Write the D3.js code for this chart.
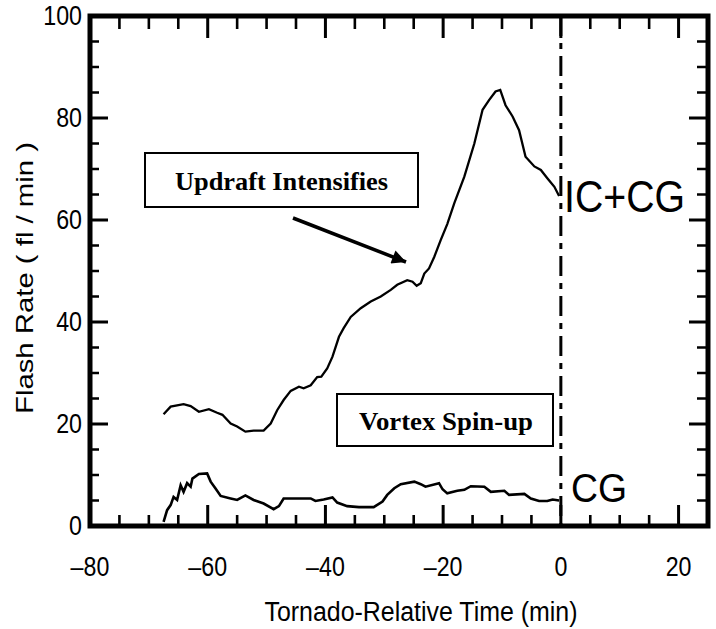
<!DOCTYPE html>
<html>
<head>
<meta charset="utf-8">
<script src="https://cdn.jsdelivr.net/npm/d3@7"></script>
<style>
  body { margin: 0; background: #fff; }
  svg { display: block; }
</style>
</head>
<body>
<svg id="chart" width="716" height="629"></svg>
<script>
// Данные
const icTime = [-67.5, -66.3, -64.1, -62.9, -61.5, -59.8, -58.4, -57.5, -56.1, -55.0, -53.6, -52.2, -50.5,
    -49.3, -48.2, -47.1, -45.9, -44.5, -43.7, -42.5, -41.4, -40.7, -39.7, -38.8, -37.7, -36.9, -35.7,
    -34.0, -32.3, -30.6, -28.9, -27.8, -26.1, -25.2, -24.5, -23.8, -23.2, -22.4, -21.5, -20.4, -19.3,
    -18.1, -16.4, -14.7, -13.3, -12.2, -11.1, -10.3, -9.4, -8.2, -7.1, -6.0, -4.5, -3.4, -2.3, -1.1, -0.3];
const icRate = [21.9, 23.4, 23.9, 23.5, 22.4, 22.9, 22.2, 21.8, 20.1, 19.5, 18.5, 18.7, 18.7,
    20.1, 22.7, 24.7, 26.5, 27.3, 27.0, 27.6, 29.2, 29.3, 30.9, 33.2, 37.1, 38.8, 41.0,
    42.7, 44.0, 45.0, 46.3, 47.3, 48.2, 47.9, 47.1, 47.6, 49.5, 50.5, 52.8, 56.1, 59.2,
    63.3, 68.5, 75.0, 81.6, 83.5, 85.2, 85.5, 82.5, 80.3, 77.6, 72.4, 70.5, 69.8, 68.2, 66.5, 64.7];

const cgTime = [-67.5, -66.9, -66.3, -65.8, -65.2, -64.6, -64.1, -63.5, -62.9, -62.6, -61.5, -60.1, -59.5,
    -58.7, -57.8, -56.1, -55.0, -53.6, -52.2, -50.5, -48.8, -47.9, -47.1, -42.5, -41.7, -40.3, -38.8,
    -38.0, -36.3, -34.3, -31.8, -30.3, -29.5, -28.3, -27.2, -24.9, -23.8, -23.0, -20.7, -20.1, -19.3,
    -17.6, -16.4, -15.3, -13.0, -11.9, -9.6, -8.8, -6.2, -5.1, -3.7, -2.3, -1.4, -0.3];
const cgRate = [0.8, 3.1, 4.1, 5.7, 5.1, 8.0, 6.7, 8.4, 7.7, 9.3, 10.2, 10.3, 8.7,
    7.4, 5.9, 5.4, 5.1, 6.0, 5.1, 4.4, 3.3, 3.9, 5.4, 5.4, 4.9, 5.2, 5.6,
    4.6, 3.9, 3.7, 3.7, 4.8, 6.1, 7.4, 8.2, 8.7, 8.2, 7.7, 8.4, 7.2, 6.4,
    6.9, 7.1, 7.8, 7.7, 6.7, 6.9, 6.1, 6.3, 5.4, 4.9, 4.9, 5.2, 5.0];

const xTickValues = [-80, -60, -40, -20, 0, 20];
const xTickLabels = ["\u201380", "\u201360", "\u201340", "\u201320", "0", "20"];
const yTickValues = [0, 20, 40, 60, 80, 100];
const yTickLabels = ["0", "20", "40", "60", "80", "100"];

const svg = d3.select("#chart");

// Шкалы
const x = d3.scaleLinear().domain([-80, 25]).range([90, 708]);
const y = d3.scaleLinear().domain([0, 100]).range([526, 16]);

const xMajor = [-60, -40, -20, 0, 20];
const xMinor = [-75, -70, -65, -55, -50, -45, -35, -30, -25, -15, -10, -5, 5, 10, 15];
const yMajor = [20, 40, 60, 80];
const yMinor = [5, 10, 15, 25, 30, 35, 45, 50, 55, 65, 70, 75, 85, 90, 95];

// Рамка
svg.append("rect")
    .attr("x", x(-80)).attr("y", y(100))
    .attr("width", x(25) - x(-80)).attr("height", y(0) - y(100))
    .attr("fill", "none").attr("stroke", "#000").attr("stroke-width", 5);

// Деления внутрь рамки со всех сторон
let majorPath = "", minorPath = "";
xMajor.forEach(v => { majorPath += `M${x(v)},${y(0)}v-21M${x(v)},${y(100)}v22`; });
xMinor.forEach(v => { minorPath += `M${x(v)},${y(0)}v-11M${x(v)},${y(100)}v13`; });
yMajor.forEach(v => { majorPath += `M${x(-80)},${y(v)}h18M${x(25)},${y(v)}h-19`; });
yMinor.forEach(v => { minorPath += `M${x(-80)},${y(v)}h9M${x(25)},${y(v)}h-11`; });
svg.append("path")
    .attr("d", majorPath)
    .attr("fill", "none").attr("stroke", "#000").attr("stroke-width", 3);
svg.append("path")
    .attr("d", minorPath)
    .attr("fill", "none").attr("stroke", "#000").attr("stroke-width", 2.6);

// Подписи делений
const tickFont = "'Liberation Sans', Arial, sans-serif";
svg.append("g").selectAll("text")
    .data(xTickValues)
    .enter().append("text")
    .attr("x", d => x(d)).attr("y", 576)
    .attr("text-anchor", "middle")
    .attr("font-family", tickFont).attr("font-size", 27)
    .attr("transform", d => `translate(${x(d)},0) scale(0.86,1) translate(${-x(d)},0)`)
    .text((d, i) => xTickLabels[i]);

svg.append("g").selectAll("text")
    .data(yTickValues)
    .enter().append("text")
    .attr("x", 82).attr("y", d => y(d) + 9)
    .attr("text-anchor", "end")
    .attr("font-family", tickFont).attr("font-size", 27)
    .attr("transform", "translate(82,0) scale(0.86,1) translate(-82,0)")
    .text((d, i) => yTickLabels[i]);

// Момент торнадо (t = 0)
svg.append("line")
    .attr("x1", x(0)).attr("x2", x(0))
    .attr("y1", y(100)).attr("y2", y(0))
    .attr("stroke", "#000").attr("stroke-width", 3)
    .attr("stroke-dasharray", "20,7,6,7");

// Кривые
const line = d3.line().x(d => x(d[0])).y(d => y(d[1]));

svg.append("path")
    .datum(d3.zip(icTime, icRate))
    .attr("d", line)
    .attr("fill", "none").attr("stroke", "#000").attr("stroke-width", 2.3);

svg.append("path")
    .datum(d3.zip(cgTime, cgRate))
    .attr("d", line)
    .attr("fill", "none").attr("stroke", "#000").attr("stroke-width", 2.6);

// Подписи кривых
svg.append("text")
    .attr("x", 564).attr("y", 212)
    .attr("textLength", 121).attr("lengthAdjust", "spacingAndGlyphs")
    .attr("font-family", tickFont).attr("font-size", 44)
    .text("IC+CG");

svg.append("text")
    .attr("x", 571).attr("y", 502)
    .attr("textLength", 56).attr("lengthAdjust", "spacingAndGlyphs")
    .attr("font-family", tickFont).attr("font-size", 40)
    .text("CG");

// Рамки с пояснениями
function noteBox(x0, y0, w, h, tx, ty, tw, label) {
    svg.append("rect")
        .attr("x", x0).attr("y", y0).attr("width", w).attr("height", h)
        .attr("fill", "#fff").attr("stroke", "#000").attr("stroke-width", 2);
    svg.append("text")
        .attr("x", tx).attr("y", ty)
        .attr("textLength", tw).attr("lengthAdjust", "spacingAndGlyphs")
        .attr("font-family", "'Liberation Serif', 'Times New Roman', serif")
        .attr("font-weight", "bold")
        .attr("font-size", 26)
        .text(label);
}
noteBox(145, 153, 273, 54, 175, 190, 213, "Updraft Intensifies");
noteBox(337, 394, 216, 52, 359, 430, 174, "Vortex Spin-up");

// Стрелка
svg.append("defs").append("marker")
    .attr("id", "arrow")
    .attr("viewBox", "0 0 10 10")
    .attr("refX", 10).attr("refY", 5)
    .attr("markerUnits", "userSpaceOnUse")
    .attr("markerWidth", 18).attr("markerHeight", 14)
    .attr("orient", "auto")
    .append("path")
    .attr("d", "M0,0 L10,5 L0,10 Z")
    .attr("fill", "#000");

svg.append("line")
    .attr("x1", 293).attr("y1", 218)
    .attr("x2", 406).attr("y2", 262)
    .attr("stroke", "#000").attr("stroke-width", 3.5)
    .attr("marker-end", "url(#arrow)");

// Подписи осей
svg.append("text")
    .attr("x", 421).attr("y", 621)
    .attr("text-anchor", "middle")
    .attr("textLength", 313).attr("lengthAdjust", "spacingAndGlyphs")
    .attr("font-family", tickFont).attr("font-size", 27)
    .text("Tornado-Relative Time (min)");

svg.append("text")
    .attr("transform", "translate(33,278) rotate(-90)")
    .attr("text-anchor", "middle")
    .attr("textLength", 272).attr("lengthAdjust", "spacingAndGlyphs")
    .attr("font-family", tickFont).attr("font-size", 24)
    .text("Flash Rate ( fl / min )");
</script>
</body>
</html>
